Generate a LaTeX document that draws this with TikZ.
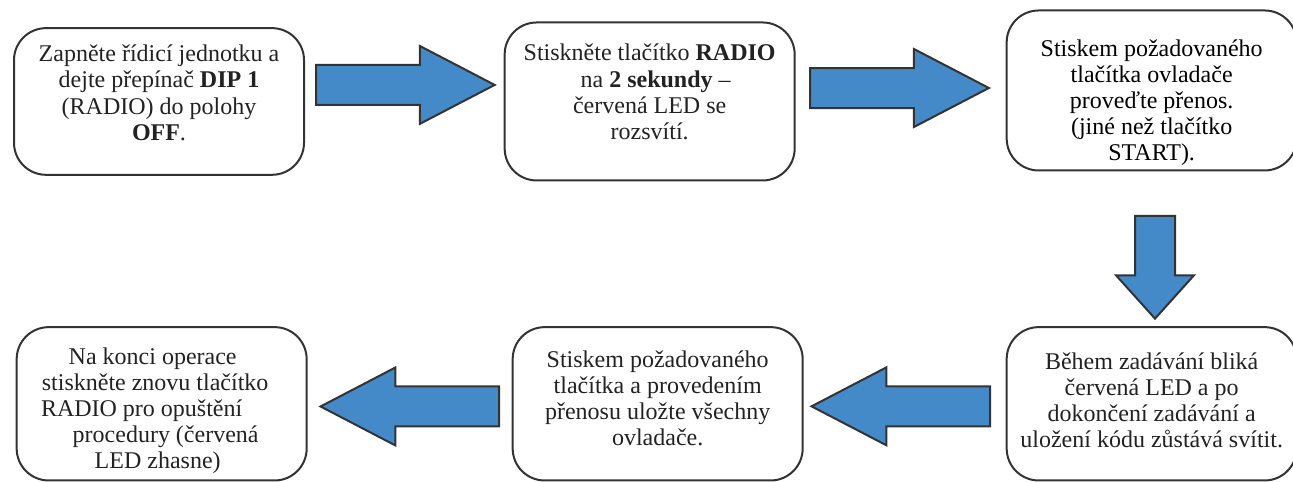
\documentclass[tikz,border=0pt]{standalone}
\usepackage{fontspec}
\setmainfont{Liberation Serif}
\usetikzlibrary{positioning,shapes.arrows,calc}
\definecolor{arrowblue}{RGB}{68,138,200}
\definecolor{linegray}{RGB}{51,51,51}
\definecolor{textgray}{RGB}{34,34,34}
% text block of a box, lifted by the optional argument
\newcommand{\boxtext}[2][0pt]{%
  \raisebox{#1}[0pt][0pt]{\begin{tabular}{@{}c@{}}#2\end{tabular}}}
\tikzset{
  stepbox/.style={
    draw=linegray,
    line width=1.5pt,
    rounded corners=24pt,
    minimum width=217.5pt,
    minimum height=115pt,
    inner sep=0pt,
    text=textgray,
    font=\fontsize{18}{19.6}\selectfont
  },
  blockarrow/.style={
    single arrow,
    anchor=tail,
    draw=linegray,
    fill=arrowblue,
    line width=1.5pt,
    minimum height=134pt,
    minimum width=57pt,
    single arrow head extend=14.25pt,
    single arrow tip angle=55,
    inner xsep=0pt,
    inner ysep=14.25pt
  }
}
\begin{document}
\begin{tikzpicture}
  \useasboundingbox (0,0) rectangle (969.75pt,-361.5pt);
  \node[stepbox, minimum height=110pt] (zapnout) at (119.25pt,-76.1pt)
    {\boxtext{Zapněte řídicí jednotku a\\dejte přepínač \textbf{DIP 1}\\(RADIO) do polohy\\\textbf{OFF}.}};
  \node[stepbox, minimum height=118.5pt, right=149pt of zapnout] (radio)
    {\boxtext[0.6pt]{Stiskněte tlačítko \textbf{RADIO}\\\hspace*{9pt}na \textbf{2 sekundy} –\\červená LED se\\rozsvítí.}};
  \node[stepbox, minimum height=120pt, right=157.5pt of radio, yshift=8.25pt, text=black] (prenos)
    {\boxtext[-14pt]{Stiskem požadovaného\\tlačítka ovladače\\proveďte přenos.\\(jiné než tlačítko\\START).}};
  \node[stepbox, below=116pt of prenos] (zadavani)
    {\boxtext[-4pt]{Během zadávání bliká\\červená LED a po\\dokončení zadávání a\\uložení kódu zůstává svítit.}};
  \node[stepbox, left=151.5pt of zadavani] (ulozit)
    {\boxtext[-2.5pt]{Stiskem požadovaného\\tlačítka a provedením\\přenosu uložte všechny\\ovladače.}};
  \node[stepbox, left=153pt of ulozit] (konec)
    {\boxtext[-10pt]{Na konci operace\hspace*{13.5pt}\\stiskněte znovu tlačítko\hspace*{9.75pt}\\RADIO pro opuštění\hspace*{30pt}\\\hspace*{6pt}procedury (červená\\LED zhasne)\hspace*{6pt}}};
  \node[blockarrow] (sipka1) at ($(zapnout.east)+(7.5pt,12.4pt)$) {};
  \node[blockarrow] (sipka2) at ($(radio.east)+(10.15pt,10.1pt)$) {};
  \node[blockarrow, shape border rotate=270, minimum height=77pt, single arrow tip angle=84,
    inner sep=14.25pt] (sipka3) at ($(prenos.south)+(2.5pt,-32.6pt)$) {};
  \node[blockarrow, shape border rotate=180] (sipka4) at ($(zadavani.west)+(-10.85pt,-1.9pt)$) {};
  \node[blockarrow, shape border rotate=180] (sipka5) at ($(ulozit.west)+(-8.6pt,-2pt)$) {};
\end{tikzpicture}
\end{document}
